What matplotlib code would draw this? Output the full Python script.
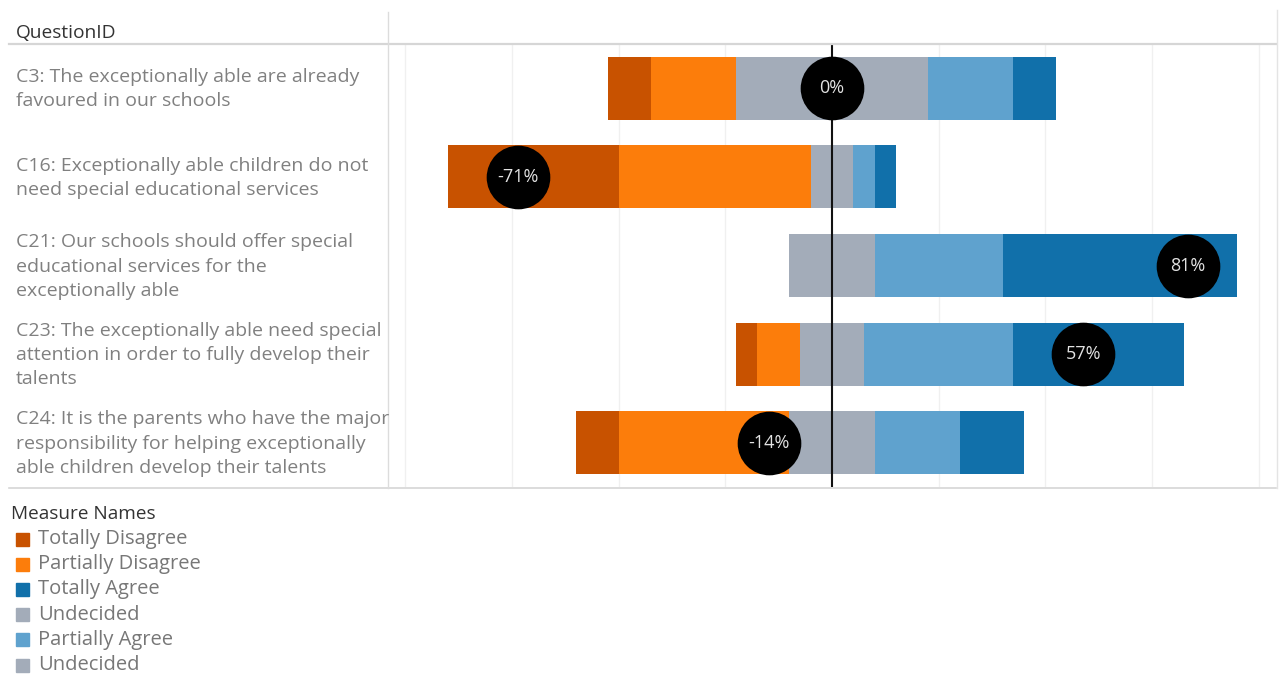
import matplotlib
matplotlib.use("Agg")
import matplotlib.pyplot as plt
from matplotlib.patches import Rectangle
from matplotlib.lines import Line2D
import numpy as np

plt.rcParams['font.family'] = ['Open Sans', 'DejaVu Sans']

# ---- data (respondent counts, N = 21) ----
question_labels = [
    "C3: The exceptionally able are already\nfavoured in our schools",
    "C16: Exceptionally able children do not\nneed special educational services",
    "C21: Our schools should offer special\neducational services for the\nexceptionally able",
    "C23: The exceptionally able need special\nattention in order to fully develop their\ntalents",
    "C24: It is the parents who have the major\nresponsibility for helping exceptionally\nable children develop their talents",
]
totally_disagree = [2, 8, 0, 1, 2]
partially_disagree = [4, 9, 0, 2, 8]
undecided = [9, 2, 4, 3, 4]
partially_agree = [4, 1, 6, 7, 4]
totally_agree = [2, 1, 11, 8, 3]

legend_labels = ["Totally Disagree", "Partially Disagree", "Totally Agree",
                 "Undecided", "Partially Agree", "Undecided"]

C_TD, C_PD, C_U, C_PA, C_TA = "#c85200", "#fc7d0b", "#a3acb9", "#5fa2ce", "#1170aa"
legend_colors = [C_TD, C_PD, C_TA, C_U, C_PA, C_U]

W, H = 1279, 674
fig = plt.figure(figsize=(W / 100, H / 100), dpi=100)

def fx(px):
    return px / W

def fy(py):
    return 1 - py / H

ax_l, ax_r, ax_t, ax_b = 388, 1276, 44, 487
ax = fig.add_axes([fx(ax_l), fy(ax_b), fx(ax_r - ax_l), (ax_b - ax_t) / H])

td = np.array(totally_disagree, float)
pd_ = np.array(partially_disagree, float)
un = np.array(undecided, float)
pa = np.array(partially_agree, float)
ta = np.array(totally_agree, float)
n = len(td)
ypos = np.arange(n)
bh = 0.71

start = -(td + pd_ + un / 2)
segs = [(td, C_TD), (pd_, C_PD), (un / 2, C_U), (un / 2, C_U), (pa, C_PA), (ta, C_TA)]
left = start.copy()
for vals, col in segs:
    ax.barh(ypos, vals, left=left, height=bh, color=col, linewidth=0, zorder=2)
    left = left + vals

lim = 20.81
ax.set_xlim(-lim, lim)
ax.set_ylim(n - 0.5, -0.5)
for g in range(-20, 21, 5):
    if g != 0:
        ax.axvline(g, color="#f0f0f0", lw=1, zorder=0)
ax.axvline(0, color="#111111", lw=1.5, zorder=4)
for s in ax.spines.values():
    s.set_visible(False)
ax.set_xticks([])
ax.set_yticks([])

# net agreement circles (percent axis)
total = td + pd_ + un + pa + ta
net_pct = (pa + ta - td - pd_) / total * 100
ax2 = ax.twiny()
ax2.set_xlim(-100.9, 100.9)
ax2.set_ylim(n - 0.5, -0.5)
ax2.scatter(net_pct, ypos, s=2100, color="black", linewidths=0, zorder=5)
for x, y in zip(net_pct, ypos):
    ax2.text(x, y, f"{int(round(x))}%", ha="center", va="center",
             color="#e2e2e2", fontsize=13, zorder=6)
ax2.axis("off")

# row labels and header
row_pitch = (ax_b - ax_t) / n
for i, lab in enumerate(question_labels):
    yc = ax_t + row_pitch * (i + 0.5)
    fig.text(fx(16), fy(yc + 1), lab, ha="left", va="center", fontsize=14.0,
             color="#808080", linespacing=1.45)
fig.text(fx(16), fy(33), "QuestionID", ha="left", va="center", fontsize=13.8, color="#333333")

# frame lines
fig.add_artist(Line2D([fx(9), fx(1276)], [fy(43.5), fy(43.5)], color="#d6d6d6", lw=1.6))
fig.add_artist(Line2D([fx(9), fx(1276)], [fy(487.5), fy(487.5)], color="#d6d6d6", lw=1.2))
fig.add_artist(Line2D([fx(388), fx(388)], [fy(12), fy(487.5)], color="#dcdcdc", lw=1.0))
fig.add_artist(Line2D([fx(1276.5), fx(1276.5)], [fy(10), fy(487.5)], color="#e4e4e4", lw=1.0))

# legend
fig.text(fx(11), fy(514), "Measure Names", ha="left", va="center", fontsize=13.7, color="#333333")
for i, (lab, col) in enumerate(zip(legend_labels, legend_colors)):
    yc = 539 + i * 25.2
    fig.add_artist(Rectangle((fx(16), fy(yc + 6.5)), fx(13), 13 / H, color=col,
                             transform=fig.transFigure))
    fig.text(fx(38), fy(yc), lab, ha="left", va="center", fontsize=14.5, color="#777777")

fig.savefig("out.png", dpi=100)
